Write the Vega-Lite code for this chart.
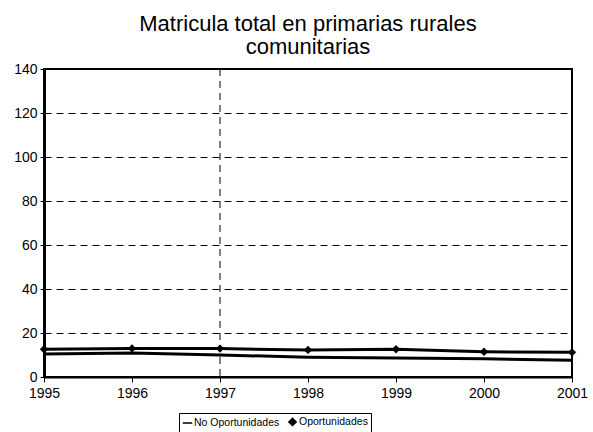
{
  "$schema": "https://vega.github.io/schema/vega-lite/v6.json",
  "width": 528,
  "height": 308,
  "autosize": {"type": "none"},
  "padding": {"left": 44, "top": 69, "right": 21, "bottom": 55},
  "background": "white",
  "config": {
    "font": "Liberation Sans",
    "view": {"stroke": "black", "strokeWidth": 2}
  },
  "title": {
    "text": ["Matricula total en primarias rurales", "comunitarias"],
    "fontSize": 22,
    "fontWeight": "normal",
    "font": "Liberation Sans",
    "color": "black",
    "lineHeight": 23,
    "offset": 3
  },
  "datasets": {
    "series": [
      {"year": 1995, "serie": "No Oportunidades", "value": 10.5},
      {"year": 1996, "serie": "No Oportunidades", "value": 10.9},
      {"year": 1997, "serie": "No Oportunidades", "value": 10.0},
      {"year": 1998, "serie": "No Oportunidades", "value": 9.0},
      {"year": 1999, "serie": "No Oportunidades", "value": 8.6},
      {"year": 2000, "serie": "No Oportunidades", "value": 8.3},
      {"year": 2001, "serie": "No Oportunidades", "value": 7.6},
      {"year": 1995, "serie": "Oportunidades", "value": 12.6},
      {"year": 1996, "serie": "Oportunidades", "value": 13.0},
      {"year": 1997, "serie": "Oportunidades", "value": 12.9},
      {"year": 1998, "serie": "Oportunidades", "value": 12.3},
      {"year": 1999, "serie": "Oportunidades", "value": 12.6},
      {"year": 2000, "serie": "Oportunidades", "value": 11.5},
      {"year": 2001, "serie": "Oportunidades", "value": 11.2}
    ],
    "marker": [{"year": 1997}]
  },
  "layer": [
    {
      "data": {"name": "marker"},
      "mark": {"type": "rule", "color": "black", "strokeWidth": 1, "strokeDash": [7, 5]},
      "encoding": {
        "x": {"field": "year", "type": "quantitative"}
      }
    },
    {
      "data": {"name": "series"},
      "mark": {"type": "line", "color": "black", "strokeWidth": 3},
      "encoding": {
        "x": {
          "field": "year", "type": "quantitative",
          "scale": {"domain": [1995, 2001], "nice": false, "zero": false},
          "axis": {
            "title": null, "values": [1995, 1996, 1997, 1998, 1999, 2000, 2001],
            "format": "d", "grid": false, "labelFontSize": 14, "labelColor": "black",
            "domainColor": "black", "domainWidth": 2, "tickColor": "black", "tickSize": 5,
            "labelPadding": 4, "labelFlush": false
          }
        },
        "y": {
          "field": "value", "type": "quantitative",
          "scale": {"domain": [0, 140], "nice": false},
          "axis": {
            "title": null, "values": [0, 20, 40, 60, 80, 100, 120, 140],
            "grid": true, "gridColor": "black", "gridDash": [7, 5], "gridWidth": 1.2,
            "labelFontSize": 14, "labelColor": "black", "domainColor": "black",
            "domainWidth": 3, "tickColor": "black", "tickSize": 4, "labelPadding": 3
          }
        },
        "detail": {"field": "serie"}
      }
    },
    {
      "data": {"name": "series"},
      "transform": [{"filter": "datum.serie === 'Oportunidades'"}],
      "mark": {"type": "point", "shape": "diamond", "filled": true, "color": "black", "size": 70, "opacity": 1},
      "encoding": {
        "x": {"field": "year", "type": "quantitative"},
        "y": {"field": "value", "type": "quantitative"}
      }
    },
    {
      "data": {"name": "series"},
      "mark": {"type": "point", "filled": true, "color": "black", "opacity": 0},
      "encoding": {
        "x": {"field": "year", "type": "quantitative"},
        "y": {"field": "value", "type": "quantitative"},
        "shape": {
          "field": "serie", "type": "nominal",
          "scale": {"domain": ["No Oportunidades", "Oportunidades"], "range": ["M-1,-0.16H1V0.16H-1Z", "diamond"]},
          "legend": {
            "title": null, "orient": "none", "legendX": 135, "legendY": 344,
            "direction": "horizontal", "strokeColor": "black", "padding": 3,
            "labelFontSize": 10.5, "labelColor": "black", "symbolOpacity": 1,
            "symbolSize": 90, "columnPadding": 4, "labelOffset": 1,
            "encode": {
              "symbols": {
                "update": {
                  "stroke": {"value": "black"},
                  "fill": {"value": "black"},
                  "strokeWidth": {"value": 1},
                  "opacity": {"value": 1}
                }
              }
            }
          }
        }
      }
    }
  ]
}
